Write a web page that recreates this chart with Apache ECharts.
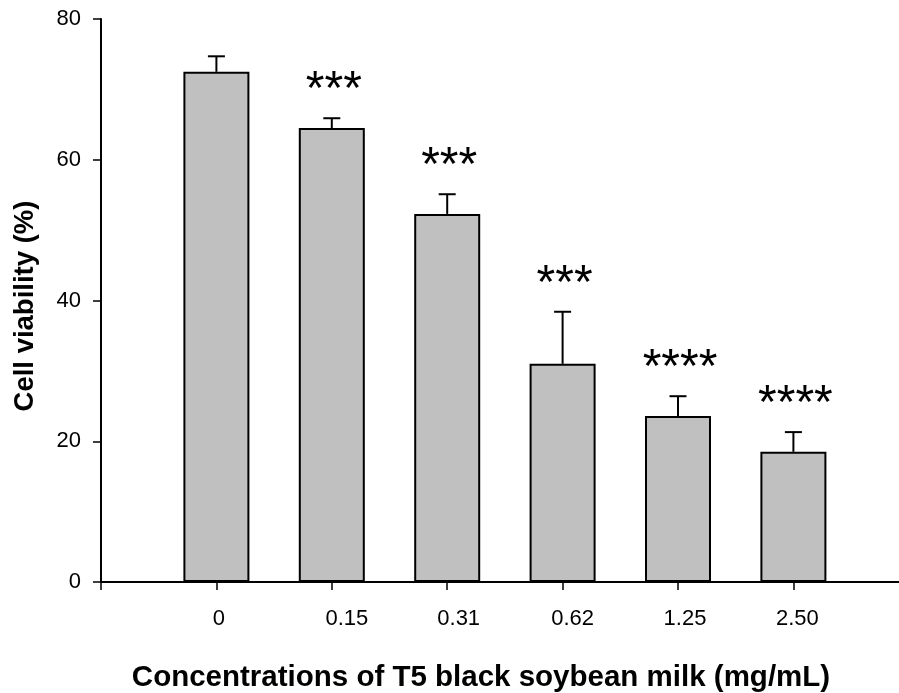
<!DOCTYPE html>
<html>
<head>
<meta charset="utf-8">
<script src="https://cdn.jsdelivr.net/npm/echarts@6/dist/echarts.min.js"></script>
<style>
  html, body { margin: 0; padding: 0; background: #fff; }
  #chart { width: 899px; height: 693px; }
</style>
</head>
<body>
<div id="chart"></div>
<script>
// Concentrations (mg/mL) and measured cell viability (%)
const categories = ['0', '0.15', '0.31', '0.62', '1.25', '2.50'];
const viability = [72.5, 64.5, 52.3, 31.0, 23.6, 18.5];
const errorUp = [2.2, 1.4, 2.8, 7.4, 2.8, 2.8];
const significance = ['', '***', '***', '***', '****', '****'];
const yMin = 0, yMax = 80, yStep = 20;

// Empty slots at both ends give the axis its leading tick and right margin
const axisCats = [''].concat(categories, ['']);
const barData = ['-'].concat(viability, ['-']);
const errData = viability.map((v, i) => [i + 1, v, errorUp[i], significance[i]]);

const FONT = 'Liberation Sans, Arial, sans-serif';

// Small horizontal nudges for the tick labels (px of left padding)
const labelPad = [0, 5, 30, 23, 20, 14, 8, 0];
const rich = {};
labelPad.forEach((p, i) => {
  rich['c' + i] = { padding: [0, 0, 0, p], fontSize: 22, color: '#000', fontFamily: FONT };
});

const chart = echarts.init(document.getElementById('chart'), null, { renderer: 'canvas' });

chart.setOption({
  animation: false,
  backgroundColor: '#fff',
  grid: {
    left: 101, top: 19, bottom: 111, width: 807.8,
    containLabel: false, outerBoundsMode: 'none'
  },
  xAxis: {
    type: 'category',
    data: axisCats,
    boundaryGap: false,
    axisLine: { lineStyle: { color: '#000', width: 2 } },
    axisTick: { inside: false, length: 8, interval: 0, lineStyle: { color: '#000', width: 1.5 } },
    axisLabel: {
      interval: 0,
      margin: 26,
      fontSize: 22,
      formatter: (v, i) => v ? '{c' + i + '|' + v + '}' : '',
      rich: rich
    },
    splitLine: { show: false }
  },
  yAxis: {
    type: 'value',
    min: yMin, max: yMax, interval: yStep,
    axisLine: { show: true, lineStyle: { color: '#000', width: 2 } },
    axisTick: { show: true, inside: false, length: 8, lineStyle: { color: '#000', width: 1.5 } },
    axisLabel: { color: '#000', fontSize: 22, fontFamily: FONT, margin: 20 },
    splitLine: { show: false }
  },
  graphic: [
    {
      type: 'text', x: 0, y: 0,
      style: {
        text: 'Concentrations of T5 black soybean milk (mg/mL)',
        x: 481, y: 678, textAlign: 'center', textVerticalAlign: 'middle',
        font: 'bold 29.5px ' + FONT, fill: '#000'
      }
    },
    {
      type: 'text', rotation: Math.PI / 2, x: 25, y: 306,
      style: {
        text: 'Cell viability (%)', x: 0, y: 0,
        textAlign: 'center', textVerticalAlign: 'middle',
        font: 'bold 27.5px ' + FONT, fill: '#000'
      }
    }
  ],
  series: [
    {
      type: 'bar',
      data: barData,
      barWidth: 66,
      itemStyle: { color: '#c0c0c0', borderColor: '#000', borderWidth: 2 },
      z: 2
    },
    {
      type: 'custom',
      data: errData,
      z: 3,
      renderItem: function (params, api) {
        const x = api.value(0), v = api.value(1), e = api.value(2);
        const sig = errData[params.dataIndex][3];
        const base = api.coord([x, v]);
        const top = api.coord([x, v + e]);
        const cap = 8.5;
        const children = [
          { type: 'line', shape: { x1: base[0], y1: base[1], x2: top[0], y2: top[1] },
            style: { stroke: '#000', lineWidth: 2 } },
          { type: 'line', shape: { x1: top[0] - cap, y1: top[1], x2: top[0] + cap, y2: top[1] },
            style: { stroke: '#000', lineWidth: 2 } }
        ];
        if (sig) {
          children.push({
            type: 'text',
            style: {
              text: sig, x: top[0] + 2, y: top[1] - 3,
              textAlign: 'center', textVerticalAlign: 'bottom',
              font: '48px ' + FONT, fill: '#000'
            }
          });
        }
        return { type: 'group', children: children };
      }
    }
  ]
});
</script>
</body>
</html>
